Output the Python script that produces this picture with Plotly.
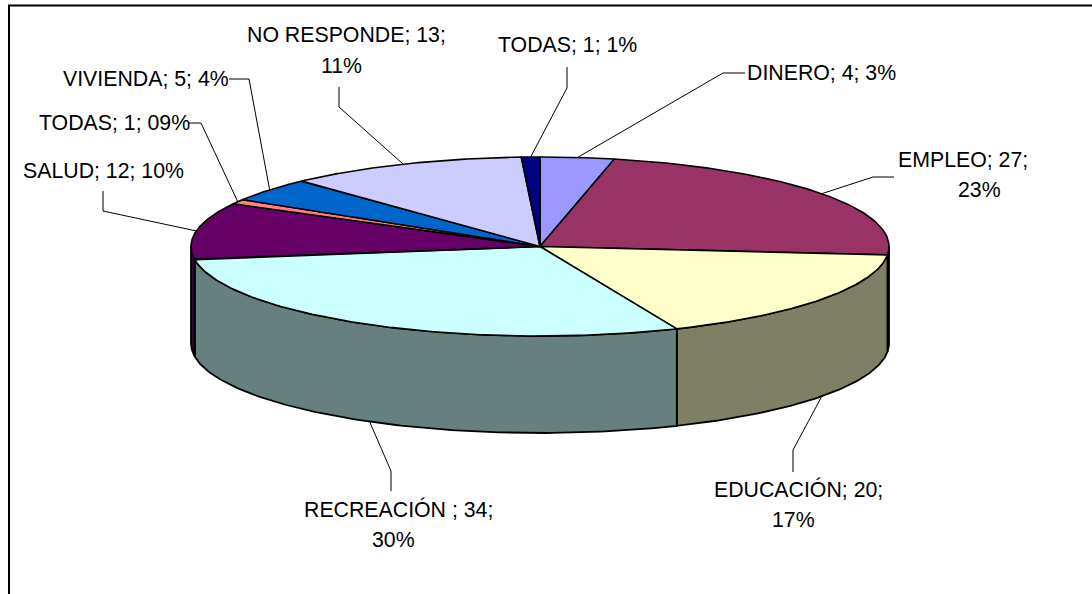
import numpy as np
import plotly.graph_objects as go

categories = ["DINERO", "EMPLEO", "EDUCACIÓN", "RECREACIÓN ", "SALUD", "TODAS", "VIVIENDA", "NO RESPONDE", "TODAS"]
values = [4, 27, 20, 34, 12, 1, 5, 13, 1]
percent_labels = ["3%", "23%", "17%", "30%", "10%", "09%", "4%", "11%", "1%"]
top_colors = ["#9999FF", "#993366", "#FFFFCC", "#CCFFFF", "#660066", "#FF8080", "#0066CC", "#CCCCFF", "#000080"]

# pie geometry in the pixel-sized axes
CX, CY, RX, RY, DEPTH = 540.0, 246.5, 349.0, 89.5, 97.0
# label line centres: first line, and second line when the label wraps
label_first = [(821, 73), (963, 160), (798, 489), (398, 509), (103.5, 171), (114, 123), (146, 79), (346.5, 35), (567, 45)]
label_second = [None, (979, 190), (793, 520), (393, 540), None, None, None, (341, 66), None]
elbows = [[(723, 73), (745, 73)], [(873, 177), (894, 177)], [(793, 450), (793, 472)], [(391, 471), (391, 491)],
          [(103, 211), (103, 191)], [(201, 123), (189, 123)], [(249, 79), (229, 79)], [(339, 107), (339, 87)],
          [(567, 88), (567, 67)]]
FONT = dict(family="Liberation Sans, Arial, sans-serif", size=21.3, color="black")


def pt(theta, dy=0.0):
    t = np.radians(theta)
    return CX + RX * np.sin(t), CY - RY * np.cos(t) + dy


def dark(c):
    r, g, b = (int(c[i:i + 2], 16) for i in (1, 3, 5))
    return f"rgb({r // 2},{g // 2},{b // 2})"


cum = np.cumsum([0] + values) / sum(values) * 360.0
fig = go.Figure()

# side walls: only the front half (90..270 degrees) shows
for i, c in enumerate(top_colors):
    a, b = max(cum[i], 90.0), min(cum[i + 1], 270.0)
    if a >= b:
        continue
    th = np.linspace(a, b, 120)
    x0, y0 = pt(th)
    x1, y1 = pt(th[::-1], DEPTH)
    fig.add_trace(go.Scatter(x=np.r_[x0, x1, x0[0]], y=np.r_[y0, y1, y0[0]], mode="lines", fill="toself",
                             fillcolor=dark(c), line=dict(color="black", width=1.8), hoverinfo="skip"))

# top faces
for i, c in enumerate(top_colors):
    th = np.linspace(cum[i], cum[i + 1], 160)
    x0, y0 = pt(th)
    fig.add_trace(go.Scatter(x=np.r_[CX, x0, CX], y=np.r_[CY, y0, CY], mode="lines", fill="toself",
                             fillcolor=c, line=dict(color="black", width=1.6), hoverinfo="skip"))

# leader lines, starting on the outer edge at each slice's mid angle; then the label text
for i, name in enumerate(categories):
    mid = (cum[i] + cum[i + 1]) / 2
    front = 90 < mid < 270
    sx, sy = pt(mid, DEPTH if front else 0.0)
    xs = [float(sx)] + [p[0] for p in elbows[i]]
    ys = [float(sy)] + [p[1] for p in elbows[i]]
    fig.add_trace(go.Scatter(x=xs, y=ys, mode="lines", line=dict(color="black", width=1), hoverinfo="skip"))
    if label_second[i] is None:
        fig.add_annotation(x=label_first[i][0], y=label_first[i][1], showarrow=False, font=FONT,
                           text=f"{name}; {values[i]}; {percent_labels[i]}")
    else:
        fig.add_annotation(x=label_first[i][0], y=label_first[i][1], showarrow=False, font=FONT,
                           text=f"{name}; {values[i]};")
        fig.add_annotation(x=label_second[i][0], y=label_second[i][1], showarrow=False, font=FONT,
                           text=percent_labels[i])

fig.update_layout(
    width=1092, height=594, margin=dict(l=0, r=0, t=0, b=0), showlegend=False,
    paper_bgcolor="white", plot_bgcolor="white",
    xaxis=dict(range=[0, 1092], visible=False, fixedrange=True),
    yaxis=dict(range=[594, 0], visible=False, fixedrange=True),
    shapes=[dict(type="rect", xref="x", yref="y", x0=9, y0=5.5, x1=1200, y1=700,
                 line=dict(color="black", width=2), fillcolor="rgba(0,0,0,0)", layer="below")],
)
fig.write_html("out.html", config={"displayModeBar": False},
               post_script="document.body.style.margin='0';document.documentElement.style.overflow='hidden';")
